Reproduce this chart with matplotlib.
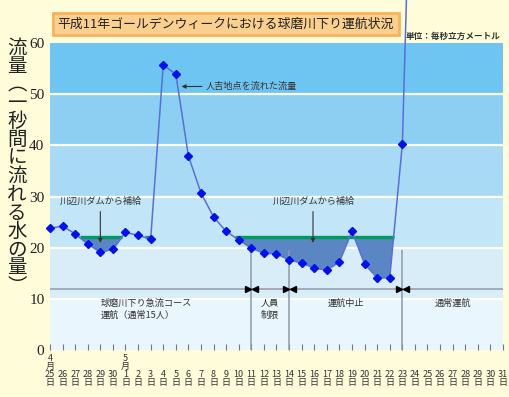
import numpy as np
import matplotlib
matplotlib.use("Agg")
import matplotlib.pyplot as plt

plt.rcParams['font.family'] = ['Noto Sans CJK JP', 'DejaVu Sans']

# dates: Apr 25..30, May 1..31
day_labels = ['25', '26', '27', '28', '29', '30'] + [str(d) for d in range(1, 32)]
month_marks = {0: '4', 6: '5'}

# flow at Hitoyoshi (m3/s), Apr 25 .. May 24
flow = [23.8, 24.2, 22.7, 20.7, 19.1, 19.7, 23.0, 22.4, 21.7, 55.7,
        53.9, 37.9, 30.7, 26.0, 23.2, 21.5, 19.9, 18.9, 18.8, 17.6,
        17.0, 16.0, 15.6, 17.2, 23.2, 16.8, 14.1, 14.1, 40.2, 127.0]

supply_level = 22.0
supply_windows = [(2, 6), (7, 8), (14, 28)]   # index ranges with dam supply

breaks = [16, 19, 28]                          # May 11, May 14, May 23
segment_texts = ['球磨川下り急流コース\n運航（通常15人）', '人員\n制限', '運航中止', '通常運航']

band_colors = ['#eaf6fd', '#d9edf9', '#c2e5f8', '#a9daf5', '#8dcff3', '#6ec5f1']

bg = '#fffcd9'
fig = plt.figure(figsize=(5.1, 3.97), dpi=100, facecolor=bg)
ax = fig.add_axes([50 / 510, 47 / 397, 453 / 510, 307 / 397])
ax.set_facecolor(bg)

x = np.arange(len(flow))
ax.set_xlim(0, len(day_labels) - 1)
ax.set_ylim(0, 60)

for i, c in enumerate(band_colors):
    ax.axhspan(i * 10, i * 10 + 10, color=c, lw=0, zorder=0)
for v in range(10, 60, 10):
    ax.axhline(v, color='white', lw=1.6, zorder=1)

# dam supply areas
for lo, hi in supply_windows:
    xs = np.linspace(lo, hi, 2000)
    ys = np.interp(xs, x, flow)
    below = ys < supply_level
    ax.fill_between(xs, ys, supply_level, where=below, color='#5a86c4', lw=0, zorder=2)
    ax.hlines(supply_level, xs[below][0], xs[below][-1], color='#009a5b', lw=2.4, zorder=3)

ax.plot(x, flow, color='#5a6ed8', lw=1.1, zorder=4, clip_on=False)
ax.plot(x, flow, 'D', color='#0010ee', ms=4.2, zorder=5, clip_on=False)

# operation periods
ax.axhline(11.9, color='#8d9aa6', lw=1.1, zorder=2)
for b in breaks:
    ax.vlines(b, 0, 19.6, color='#8d9aa6', lw=1.1, zorder=2)
    ax.plot(b - 0.28, 11.9, '>', color='black', ms=4, zorder=6)
    ax.plot(b + 0.28, 11.9, '<', color='black', ms=4, zorder=6)

edges = [0] + breaks + [len(day_labels) - 1]
ax.text(4.0, 10.0, segment_texts[0], ha='left', va='top', fontsize=6.6,
        color='#333333', linespacing=1.45)
for k in range(1, 4):
    ax.text((edges[k] + edges[k + 1]) / 2, 10.0, segment_texts[k], ha='center', va='top',
            fontsize=6.6, color='#333333', linespacing=1.45)

# annotations
for tx, ax_x in [(4.05, 4.0), (21.0, 20.9)]:
    ax.text(tx, 29.1, '川辺川ダムから補給', ha='center', va='center', fontsize=6.6, color='#333333')
    ax.annotate('', xy=(ax_x, 20.4), xytext=(ax_x, 27.6),
                arrowprops=dict(arrowstyle='-|>', color='#333333', lw=0.8, mutation_scale=6))
ax.annotate('人吉地点を流れた流量', xy=(10.45, 51.5), xytext=(12.4, 51.5),
            ha='left', va='center', fontsize=6.6, color='#333333',
            arrowprops=dict(arrowstyle='-|>', color='#333333', lw=0.8, mutation_scale=6,
                            shrinkA=1, shrinkB=0))

# axes styling
for s in ax.spines.values():
    s.set_visible(False)
ax.set_yticks(range(0, 61, 10))
ax.set_yticklabels([str(v) for v in range(0, 61, 10)])
for t in ax.get_yticklabels():
    t.set_fontfamily('Liberation Serif')
    t.set_fontsize(11)
    t.set_color('#222222')
ax.tick_params(axis='y', length=0, pad=4)
ax.set_xticks(range(len(day_labels)))
xl = []
for i, d in enumerate(day_labels):
    m = month_marks.get(i)
    xl.append((m + '\n月\n' if m else '') + d + '\n日')
ax.set_xticklabels(xl, fontsize=6.5, color='#333333', linespacing=0.9, va='bottom')
ax.tick_params(axis='x', direction='in', length=4, color='#777777', pad=27)

# title and notes
fig.text(226 / 510, 1 - 24 / 397, '平成11年ゴールデンウィークにおける球磨川下り運航状況',
         ha='center', va='center', fontsize=9.3, color='#222222',
         bbox=dict(boxstyle='square,pad=0.35', facecolor='#fbd08f', edgecolor='#f6b35e', lw=2))
fig.text(501 / 510, 1 - 36 / 397, '単位：毎秒立方メートル', ha='right', va='center',
         fontsize=6.2, color='#333333', weight='bold')

ylab = '流量︵一秒間に流れる水の量︶'
fig.text(17 / 510, 1 - 38 / 397, '\n'.join(ylab), ha='center', va='top',
         fontsize=14, color='#222222', linespacing=0.83)

fig.savefig('out.png', dpi=100, facecolor=bg)
